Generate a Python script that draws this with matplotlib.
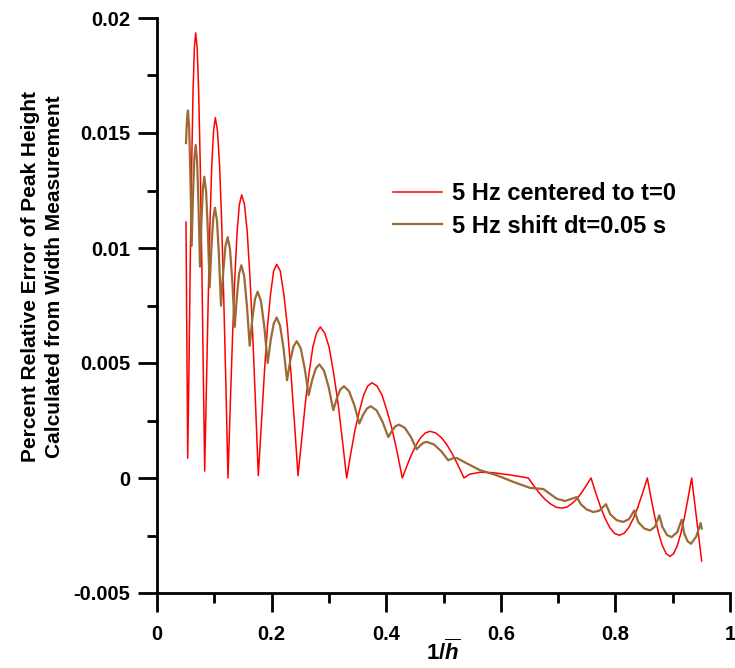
import matplotlib
matplotlib.use('Agg')
import matplotlib.pyplot as plt
from matplotlib.ticker import FixedLocator, FixedFormatter, MultipleLocator

# ---- data ----
red_x = [0.0506, 0.0536,
         0.0559, 0.0582, 0.0606, 0.0629, 0.0652, 0.0675, 0.0701, 0.0727, 0.0754, 0.0780, 0.0806, 0.0832,
         0.0863, 0.0894, 0.0925, 0.0956, 0.0987, 0.1018, 0.1055, 0.1092, 0.1129, 0.1165, 0.1202, 0.1239,
         0.1279, 0.1319, 0.1358, 0.1398, 0.1438, 0.1478, 0.1526, 0.1575, 0.1623, 0.1671, 0.1720, 0.1768,
         0.1822, 0.1875, 0.1929, 0.1982, 0.2036, 0.2089, 0.2151, 0.2213, 0.2275, 0.2337, 0.2399, 0.2461,
         0.2526, 0.2591, 0.2656, 0.2720, 0.2785, 0.2850, 0.2927, 0.3003, 0.3080, 0.3157, 0.3233, 0.3310,
         0.3384, 0.3457, 0.3531, 0.3605, 0.3678, 0.3752, 0.3840, 0.3928, 0.4016, 0.4105, 0.4193, 0.4281,
         0.4362, 0.4442, 0.4523, 0.4603, 0.4684, 0.4764, 0.4863, 0.4962, 0.5061, 0.5160, 0.5259, 0.5358,
         0.5450, 0.5637, 0.5870, 0.6200, 0.6480,
         0.6577, 0.6674, 0.6772, 0.6869, 0.6966, 0.7063, 0.7148, 0.7233, 0.7319, 0.7404, 0.7489, 0.7574,
         0.7656, 0.7739, 0.7821, 0.7903, 0.7986, 0.8068, 0.8150, 0.8231, 0.8313, 0.8394, 0.8476, 0.8557,
         0.8623, 0.8689, 0.8755, 0.8821, 0.8887, 0.8953, 0.9016, 0.9079, 0.9142, 0.9205, 0.9268, 0.9331,
         0.9506]
red_y = [0.01113, 0.00086,
         0.0050, 0.0097, 0.0137, 0.0168, 0.0187, 0.01935, 0.0187, 0.0168, 0.0137, 0.0097, 0.0050, 0.0003,
         0.0041, 0.0078, 0.0111, 0.0136, 0.0151, 0.01567, 0.0151, 0.0136, 0.0111, 0.0078, 0.0041, 0.0000,
         0.0032, 0.0062, 0.0087, 0.0107, 0.0119, 0.01231, 0.0119, 0.0107, 0.0087, 0.0062, 0.0032, 0.0001,
         0.0024, 0.0046, 0.0066, 0.0080, 0.0090, 0.00929, 0.0090, 0.0080, 0.0066, 0.0046, 0.0024, 0.0001,
         0.0017, 0.0033, 0.0046, 0.0057, 0.0063, 0.00657, 0.0063, 0.0057, 0.0046, 0.0033, 0.0017, 0.0000,
         0.0011, 0.0021, 0.0029, 0.0036, 0.0040, 0.00414, 0.0040, 0.0036, 0.0029, 0.0021, 0.0011, 0.0000,
         0.00053, 0.00102, 0.00144, 0.00176, 0.00196, 0.00203, 0.00196, 0.00176, 0.00144, 0.00102, 0.00053, 0.0000,
         0.00016, 0.00025, 0.00023, 0.00012, 0.0000,
         -0.00034, -0.00066, -0.00093, -0.00113, -0.00127, -0.00131, -0.00127, -0.00113, -0.00093, -0.00066, -0.00034, 0.0000,
         -0.00064, -0.00125, -0.00176, -0.00216, -0.00241, -0.00249, -0.00241, -0.00216, -0.00176, -0.00125, -0.00064, 0.0000,
         -0.00088, -0.00171, -0.00241, -0.00295, -0.00329, -0.00341, -0.00329, -0.00295, -0.00241, -0.00171, -0.00088, 0.0000,
         -0.00361]

brown_x = [0.0506, 0.0518, 0.0530, 0.0541, 0.0562, 0.0584, 0.0605,
           0.0628, 0.0652, 0.0675, 0.0700, 0.0725, 0.0750,
           0.0775, 0.0801, 0.0826, 0.0857, 0.0888, 0.0919,
           0.0950, 0.0981, 0.1012, 0.1047, 0.1082, 0.1117,
           0.1156, 0.1194, 0.1233, 0.1274, 0.1315, 0.1356,
           0.1395, 0.1433, 0.1472, 0.1521, 0.1569, 0.1618,
           0.1664, 0.1711, 0.1757, 0.1815, 0.1874, 0.1932,
           0.1984, 0.2037, 0.2089, 0.2149, 0.2209, 0.2269,
           0.2325, 0.2382, 0.2438, 0.2508, 0.2577, 0.2647,
           0.2709, 0.2771, 0.2833, 0.2914, 0.2996, 0.3077,
           0.3139, 0.3201, 0.3263, 0.3352, 0.3442, 0.3531,
           0.3597, 0.3664, 0.3730, 0.3832, 0.3935, 0.4037,
           0.4099, 0.4161, 0.4223, 0.4326, 0.4429, 0.4532,
           0.4590, 0.4649, 0.4707, 0.4833, 0.4958, 0.5084,
           0.5157, 0.5230, 0.5434, 0.5637, 0.5928, 0.6218, 0.6510, 0.6742, 0.6975, 0.7120,
           0.7324, 0.7400, 0.7500, 0.7615, 0.7720, 0.7836,
           0.7910, 0.8020, 0.8138, 0.8240, 0.8330,
           0.8400, 0.8500, 0.8604, 0.8690, 0.8766,
           0.8820, 0.8900, 0.8982, 0.9080, 0.9157,
           0.9200, 0.9260, 0.9319, 0.9410, 0.9488, 0.9506]
brown_y = [0.01456, 0.0153, 0.0158, 0.01598, 0.0152, 0.0130, 0.01009,
           0.0123, 0.0139, 0.01448, 0.01377, 0.01183, 0.00919,
           0.01115, 0.01258, 0.0131, 0.01246, 0.0107, 0.00829,
           0.01002, 0.01129, 0.01175, 0.01118, 0.00962, 0.00749,
           0.00898, 0.01007, 0.01047, 0.00995, 0.00852, 0.00657,
           0.00791, 0.00889, 0.00925, 0.00878, 0.0075, 0.00575,
           0.00693, 0.00779, 0.0081, 0.00768, 0.00655, 0.0050,
           0.00599, 0.00671, 0.00698, 0.00661, 0.00562, 0.00425,
           0.0051, 0.00572, 0.00595, 0.00564, 0.00478, 0.0036,
           0.00427, 0.00476, 0.00494, 0.00467, 0.00395, 0.00295,
           0.00347, 0.00385, 0.00399, 0.00377, 0.00318, 0.00237,
           0.00275, 0.00302, 0.00312, 0.00294, 0.00245, 0.00178,
           0.00205, 0.00225, 0.00232, 0.00218, 0.00179, 0.00125,
           0.00141, 0.00153, 0.00157, 0.00146, 0.00117, 0.00077,
           0.00085, 0.00087, 0.0006, 0.00034, 0.00012, -0.00017, -0.00043, -0.00048, -0.0009, -0.0010,
           -0.00083, -0.00115, -0.00137, -0.00148, -0.00142, -0.00114,
           -0.00158, -0.00183, -0.00191, -0.00178, -0.00141,
           -0.00192, -0.00219, -0.00228, -0.00212, -0.00162,
           -0.00212, -0.00248, -0.00257, -0.00235, -0.00181,
           -0.00240, -0.00275, -0.00286, -0.00255, -0.00196, -0.0022]

series_labels = ['5 Hz centered to t=0', '5 Hz shift dt=0.05 s']
x_ticks = [0, 0.2, 0.4, 0.6, 0.8, 1.0]
x_tick_labels = ['0', '0.2', '0.4', '0.6', '0.8', '1']
y_ticks = [-0.005, 0, 0.005, 0.01, 0.015, 0.02]
y_tick_labels = ['-0.005', '0', '0.005', '0.01', '0.015', '0.02']
y_label = 'Percent Relative Error of Peak Height\nCalculated from Width Measurement'

# ---- style ----
plt.rcParams['font.family'] = ['Liberation Sans', 'DejaVu Sans']
plt.rcParams['font.weight'] = 'bold'
plt.rcParams['mathtext.fontset'] = 'custom'
plt.rcParams['mathtext.rm'] = 'Liberation Sans:bold'
plt.rcParams['mathtext.bf'] = 'Liberation Sans:bold'
plt.rcParams['mathtext.it'] = 'Liberation Sans:italic:bold'

W, H = 735, 668
fig = plt.figure(figsize=(W / 100, H / 100), dpi=100)
ax = fig.add_axes([157 / W, 75 / H, 573 / W, 575 / H])

ax.plot(red_x, red_y, color='#ff0000', lw=1.1, label=series_labels[0])
ax.plot(brown_x, brown_y, color='#9b6a35', lw=1.6, label=series_labels[1])

ax.set_xlim(0, 1)
ax.set_ylim(-0.005, 0.02)

for s in ['top', 'right']:
    ax.spines[s].set_visible(False)
for s in ['left', 'bottom']:
    ax.spines[s].set_linewidth(2.0)

ax.xaxis.set_major_locator(FixedLocator(x_ticks))
ax.xaxis.set_major_formatter(FixedFormatter(x_tick_labels))
ax.yaxis.set_major_locator(FixedLocator(y_ticks))
ax.yaxis.set_major_formatter(FixedFormatter(y_tick_labels))
ax.xaxis.set_minor_locator(MultipleLocator(0.1))
ax.yaxis.set_minor_locator(MultipleLocator(0.0025))

ax.tick_params(which='major', direction='out', length=14, width=2.0, labelsize=14.5)
ax.tick_params(which='minor', direction='out', length=7, width=2.0)
ax.tick_params(axis='x', which='major', pad=9)
ax.tick_params(axis='y', which='major', pad=5)

ax.set_xlabel(r'$\mathbf{1/}\overline{\mathit{h}}$', fontsize=16)
ax.xaxis.set_label_coords(0.5, -0.080)
ax.set_ylabel(y_label, fontsize=15, fontweight='bold', linespacing=1.3)
ax.yaxis.set_label_coords(-0.163, 0.55)

ax.legend(loc='center left', bbox_to_anchor=(393 / W, 1 - 210 / H),
          bbox_transform=fig.transFigure, frameon=False, borderpad=0,
          borderaxespad=0, handlelength=2.08, handletextpad=0.42,
          labelspacing=0.4, prop={'size': 17, 'weight': 'bold'})

fig.savefig('out.png', dpi=100)
